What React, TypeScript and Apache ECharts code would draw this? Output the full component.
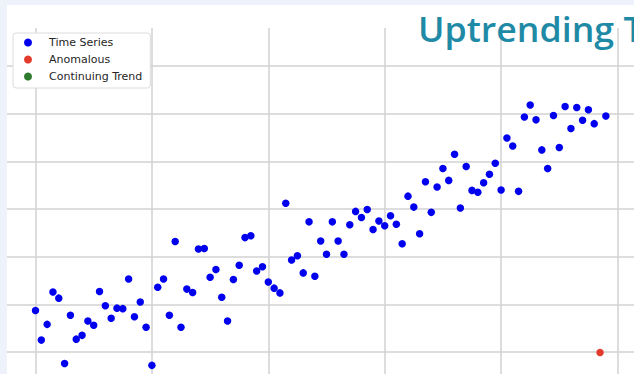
import React, { useEffect, useRef } from "react";
import * as echarts from "echarts";

// Blue "Time Series" values, index = time step (index 97 is the anomaly)
const seriesValues: (number | null)[] = [
  8.7, 2.5, 5.8, 12.6, 11.3, -2.4, 7.7, 2.7, 3.5, 6.5,
  5.6, 12.7, 9.7, 7.1, 9.2, 9.1, 15.3, 7.4, 10.5, 5.2,
  -2.8, 13.6, 15.3, 7.7, 23.2, 5.2, 13.2, 12.5, 21.6, 21.7,
  15.7, 17.3, 11.5, 6.5, 15.2, 18.2, 24.0, 24.4, 17.0, 17.9,
  14.7, 13.4, 12.4, 31.2, 19.3, 20.2, 16.6, 27.3, 15.9, 23.3,
  20.5, 27.3, 23.3, 20.5, 26.7, 29.5, 28.2, 29.9, 25.7, 27.5,
  26.5, 28.6, 26.8, 22.7, 32.7, 30.4, 24.8, 35.7, 29.3, 34.6,
  38.5, 36.0, 41.5, 30.2, 38.9, 33.9, 33.5, 35.5, 37.3, 39.6,
  34.0, 44.9, 43.2, 33.7, 49.3, 51.8, 48.7, 42.4, 38.5, 49.6,
  42.9, 51.5, 46.9, 51.3, 48.6, 50.8, 47.9, null, 49.5,
];

const anomalyX = [97];
const anomalyY = [-0.1];

const continuingX: number[] = [];
const continuingY: number[] = [];

const legendNames = ["Time Series", "Anomalous", "Continuing Trend"];
const titleText = "Uptrending T";

// chart canvas is larger than the visible window and shifted by this offset
const OX = 100;
const OY = 40;

export default function App() {
  const ref = useRef<HTMLDivElement>(null);

  useEffect(() => {
    if (!ref.current) return;
    const chart = echarts.init(ref.current, undefined, { renderer: "svg" });

    const tsData = seriesValues
      .map((v, i) => (v === null ? null : [i, v]))
      .filter((d) => d !== null) as number[][];
    const anData = anomalyX.map((x, i) => [x, anomalyY[i]]);
    const ctData = continuingX.map((x, i) => [x, continuingY[i]]);

    const gridLine = { show: true, lineStyle: { color: "#d2d2d2", width: 1.5 } };

    chart.setOption({
      animation: false,
      backgroundColor: "#ffffff",
      legend: {
        orient: "vertical",
        left: OX + 13,
        top: OY + 33,
        data: legendNames,
        icon: "circle",
        itemWidth: 8,
        itemHeight: 8,
        itemGap: 0,
        padding: [1, 8, 3, 11],
        backgroundColor: "#ffffff",
        borderColor: "#dcdcdc",
        borderWidth: 1,
        borderRadius: 3,
        textStyle: {
          fontFamily: "DejaVu Sans",
          fontSize: 11,
          color: "#262626",
          lineHeight: 17,
          padding: [0, 0, 0, 12],
        },
        z: 8,
      },
      grid: {
        left: OX - 80.9,
        top: OY + 18.3,
        width: 814.8,
        height: 381.4,
        containLabel: false,
      },
      xAxis: {
        type: "value",
        min: -20,
        max: 120,
        interval: 20,
        axisLine: { show: false },
        axisTick: { show: false },
        axisLabel: { show: false },
        splitLine: gridLine,
      },
      yAxis: {
        type: "value",
        min: -10,
        max: 70,
        interval: 10,
        axisLine: { show: false },
        axisTick: { show: false },
        axisLabel: { show: false },
        splitLine: gridLine,
      },
      series: [
        {
          name: legendNames[0],
          type: "scatter",
          data: tsData,
          symbol: "circle",
          symbolSize: 7.5,
          itemStyle: { color: "#0000ee", opacity: 1 },
        },
        {
          name: legendNames[1],
          type: "scatter",
          data: anData,
          symbol: "circle",
          symbolSize: 7.5,
          itemStyle: { color: "#e23a2c", opacity: 1 },
        },
        {
          name: legendNames[2],
          type: "scatter",
          data: ctData,
          symbol: "circle",
          symbolSize: 7.5,
          itemStyle: { color: "#2e7a2e", opacity: 1 },
        },
      ],
      graphic: [
        {
          type: "rect",
          z: 3,
          shape: { x: OX + 7, y: OY + 5, width: 800, height: 23 },
          style: { fill: "#ffffff" },
          silent: true,
        },
        {
          type: "rect",
          z: 3,
          shape: { x: 0, y: 0, width: 900, height: OY + 5 },
          style: { fill: "#eef3fb" },
          silent: true,
        },
        {
          type: "rect",
          z: 3,
          shape: { x: 0, y: 0, width: OX + 7, height: 480 },
          style: { fill: "#eef3fb" },
          silent: true,
        },
        {
          type: "text",
          z: 10,
          x: OX + 418,
          y: OY + 11,
          scaleX: 1.02,
          style: {
            text: titleText,
            fontFamily: "Open Sans",
            fontWeight: 600,
            fontSize: 35,
            fill: "#1f8aa6",
            verticalAlign: "top",
          },
          silent: true,
        },
      ],
    });

    return () => chart.dispose();
  }, []);

  return (
    <div
      style={{
        position: "fixed",
        left: 0,
        top: 0,
        width: 634,
        height: 374,
        overflow: "hidden",
        background: "#ffffff",
      }}
    >
      <div
        ref={ref}
        style={{ position: "absolute", left: -OX, top: -OY, width: 900, height: 480 }}
      />
    </div>
  );
}
